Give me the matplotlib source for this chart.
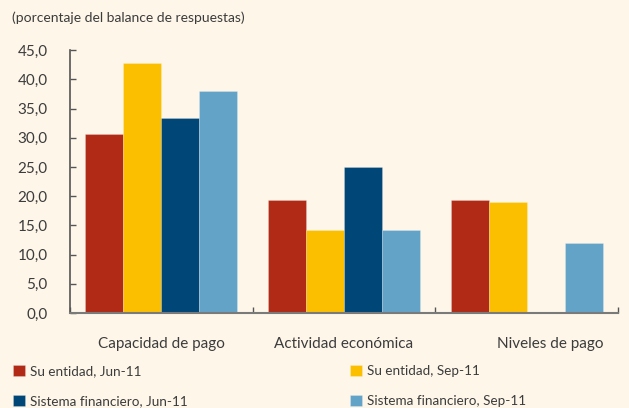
import matplotlib.pyplot as plt
import numpy as np
from matplotlib.transforms import ScaledTranslation

categories = ["Capacidad de pago", "Actividad económica", "Niveles de pago"]
series_names = ["Su entidad, Jun-11", "Su entidad, Sep-11",
                "Sistema financiero, Jun-11", "Sistema financiero, Sep-11"]
su_jun = [30.6, 19.3, 19.3]
su_sep = [42.8, 14.2, 19.0]
sf_jun = [33.3, 25.0, 0.0]
sf_sep = [38.0, 14.2, 12.0]
yticks = [0, 5, 10, 15, 20, 25, 30, 35, 40, 45]

colors = ["#b02a16", "#fbbf00", "#004677", "#64a3c8"]
bg = "#fdf6e9"
txt = "#3c3c3c"

plt.rcParams['font.family'] = ['Lato', 'DejaVu Sans']

fig = plt.figure(figsize=(6.29, 4.08), dpi=100, facecolor=bg)
ax = fig.add_axes([0.111, 0.233, 0.8715, 0.644], facecolor=bg)

x = np.arange(len(categories))
w = 0.208
data = [su_jun, su_sep, sf_jun, sf_sep]
bars = []
for k, vals in enumerate(data):
    b = ax.bar(x + (k - 1.5) * w, vals, w, color=colors[k], label=series_names[k],
               edgecolor="#ffffff40", linewidth=0.6)
    bars.append(b)

ax.set_xlim(-0.5, 2.5)
ax.set_ylim(0, 45)
ax.set_yticks(yticks)
ax.set_yticklabels([("%.1f" % v).replace(".", ",") for v in yticks])

ax.set_xticks(x)
ax.set_xticklabels(categories)
ax.set_xticks([-0.5, 0.5, 1.5, 2.5], minor=True)
ax.tick_params(axis="x", which="major", length=0, pad=17, labelsize=11, labelcolor=txt)
ax.tick_params(axis="x", which="minor", length=4, direction="in", color="#555555", width=1)
ax.tick_params(axis="y", length=4, direction="in", color="#555555", width=1,
               labelsize=11, labelcolor=txt, pad=16)

# third label sits a bit right of the group centre
lbls = ax.get_xticklabels()
lbls[2].set_transform(lbls[2].get_transform() + ScaledTranslation(0.24, 0, fig.dpi_scale_trans))

for s in ["top", "right"]:
    ax.spines[s].set_visible(False)
ax.spines["left"].set_color("#555555")
ax.spines["bottom"].set_color("#7a7a7a")
ax.spines["left"].set_linewidth(1.2)
ax.spines["bottom"].set_linewidth(1.5)

fig.text(0.019, 0.956, "(porcentaje del balance de respuestas)", fontsize=10, color=txt,
         va="center", ha="left")

handles = [bars[0], bars[2], bars[1], bars[3]]
labels = [series_names[0], series_names[2], series_names[1], series_names[3]]
leg = fig.legend(handles, labels, ncol=2, loc="upper left", bbox_to_anchor=(0.02, 0.106),
                 frameon=False, fontsize=9.7, handlelength=0.9, handleheight=0.9,
                 handletextpad=0.4, columnspacing=12.0, labelspacing=1.3,
                 borderaxespad=0, borderpad=0)
for t in leg.get_texts():
    t.set_color(txt)

fig.savefig("out.png", dpi=100, facecolor=bg)
